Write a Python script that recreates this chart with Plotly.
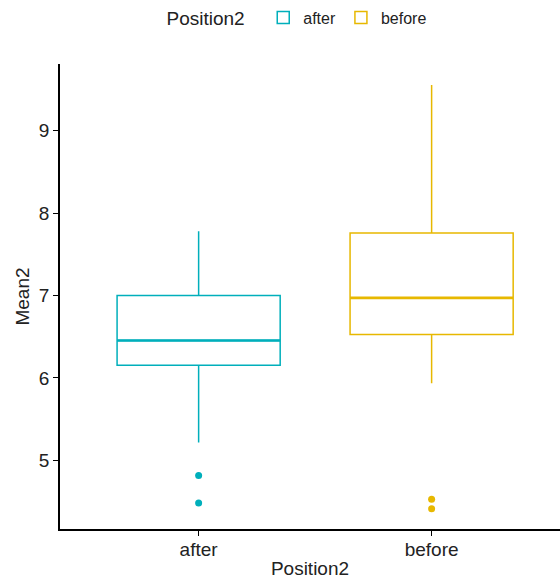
import plotly.graph_objects as go

categories = ["after", "before"]
colors = ["#00AFBB", "#E7B800"]
q1 = [6.155, 6.526]
median = [6.454, 6.972]
q3 = [7.00, 7.759]
lowerfence = [5.217, 5.936]
upperfence = [7.78, 9.555]
outliers = [[4.815, 4.483], [4.528, 4.414]]

fig = go.Figure()
for i, cat in enumerate(categories):
    fig.add_trace(go.Box(
        x=[cat], q1=[q1[i]], median=[median[i]], q3=[q3[i]],
        lowerfence=[lowerfence[i]], upperfence=[upperfence[i]],
        name=cat, legendgroup=cat,
        line=dict(color=colors[i], width=1.5),
        fillcolor="rgba(0,0,0,0)", whiskerwidth=0, width=0.7,
        boxpoints=False, hoverinfo="y",
    ))
    # thicker median line (ggplot style)
    fig.add_trace(go.Box(
        x=[cat], q1=[median[i]], median=[median[i]], q3=[median[i]],
        lowerfence=[median[i]], upperfence=[median[i]],
        name=cat, legendgroup=cat, showlegend=False,
        line=dict(color=colors[i], width=2.6),
        fillcolor="rgba(0,0,0,0)", whiskerwidth=0, width=0.7,
        boxpoints=False, hoverinfo="skip",
    ))
    fig.add_trace(go.Scatter(
        x=[cat] * len(outliers[i]), y=outliers[i], mode="markers",
        marker=dict(color=colors[i], size=7), showlegend=False, legendgroup=cat,
    ))

fig.update_layout(
    width=560, height=584,
    margin=dict(l=60, r=0, t=64, b=55),
    plot_bgcolor="white", paper_bgcolor="white",
    font=dict(family="Liberation Sans, Arial, sans-serif", color="#222", size=16),
    boxmode="overlay",
    legend=dict(orientation="h", x=0.476, xanchor="center", y=0.969, yanchor="middle",
                yref="container",
                title=dict(text="Position2  ", font=dict(size=19)), font=dict(size=16)),
    showlegend=True,
)
fig.update_xaxes(
    type="category", categoryorder="array", categoryarray=categories,
    range=[-0.595, 1.551], showline=True, linecolor="black", linewidth=1.5,
    ticks="outside", ticklen=5, tickcolor="black", tickwidth=1.2,
    showgrid=False, zeroline=False, ticklabelstandoff=-3,
    title=dict(text="Position2", font=dict(size=19), standoff=3),
    tickfont=dict(size=19, color="#222"),
)
fig.update_yaxes(
    range=[4.167, 9.81], tickvals=[5, 6, 7, 8, 9],
    showline=True, linecolor="black", linewidth=1.5,
    ticks="outside", ticklen=5, tickcolor="black", tickwidth=1.2,
    showgrid=False, zeroline=False,
    title=dict(text="Mean2", font=dict(size=19), standoff=4),
    tickfont=dict(size=19, color="#222"),
)

fig.write_html("out.html")
